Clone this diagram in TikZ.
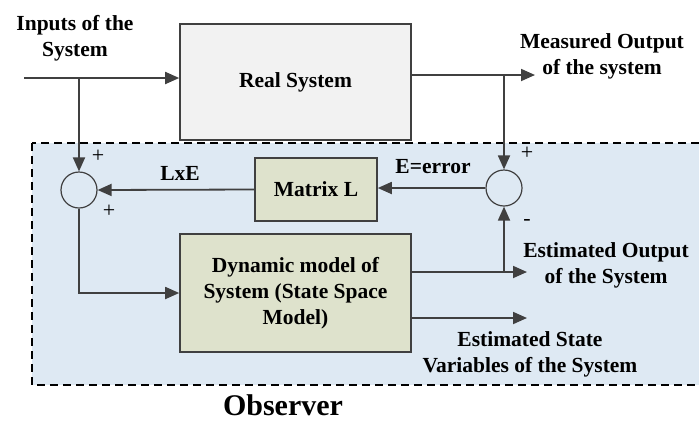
\documentclass[tikz,border=0pt]{standalone}
\usepackage{fontspec}
\setmainfont{Liberation Serif}[BoldFont={Liberation Serif Bold}]
\usetikzlibrary{arrows.meta}
\definecolor{linegray}{RGB}{64,64,64}
\definecolor{realfill}{RGB}{242,242,242}
\definecolor{modelfill}{RGB}{222,226,204}
\definecolor{obsfill}{RGB}{222,233,243}
\begin{document}
\begin{tikzpicture}[x=1pt,y=-1pt,
  font=\bfseries\fontsize{21.5}{26}\selectfont,
  block/.style={draw=linegray, line width=1.6pt, inner sep=0pt, align=center},
  sumnode/.style={circle, draw=linegray, line width=1.2pt, minimum size=36pt, inner sep=0pt},
  sig/.style={draw=linegray, line width=1.8pt, -{Triangle[length=14pt,width=12pt]}},
  sign/.style={font=\mdseries\fontsize{22}{22}\selectfont, inner sep=0pt}]
\useasboundingbox (0,0) rectangle (699,424);

% observer frame
\draw[fill=obsfill, line width=1.2pt, dash pattern=on 8pt off 5pt] (32,143) rectangle (702,385);
\node[anchor=base, inner sep=0pt] (obs) at (283,415) {\fontsize{30}{30}\selectfont Observer};

% blocks
\node[block, fill=realfill, minimum width=231pt, minimum height=116pt] (real) at (295.5,82) {Real System};
\node[block, fill=modelfill, minimum width=122pt, minimum height=63pt] (matL) at (316,189.5) {Matrix L};
\node[block, fill=modelfill, minimum width=231pt, minimum height=118pt] (dyn) at (295.5,293) {Dynamic model of\\System (State Space\\Model)};

\node[sumnode] (sumL) at (79,190) {};
\node[sumnode] (sumR) at (504,188) {};

% free ends
\coordinate (in) at (24,78);
\coordinate (inbr) at (79,78);
\coordinate (meas) at (535,75);
\coordinate (measbr) at (504,75);
\coordinate (estout) at (527,272);
\coordinate (eststate) at (527,318);

% signals
\draw[sig] (in) -- (in -| real.west);
\draw[sig] (inbr) -- (sumL.north);
\draw[sig] (real.east |- meas) -- (meas);
\draw[sig] (measbr) -- (sumR.north);
\draw[sig] (sumR.west) -- (sumR.west -| matL.east);
\draw[sig] (matL.west) -- (sumL.east);
\draw[sig] (sumL.south) |- (dyn.west);
\draw[sig] (dyn.east |- estout) -- (estout);
\draw[sig] (sumR.south |- estout) -- (sumR.south);
\draw[sig] (dyn.east |- eststate) -- (eststate);

% labels
\node[align=center] (inlbl) at (75,38) {Inputs of the\\System};
\node[align=center] (measlbl) at (602,56) {Measured Output\\of the system};
\node[align=center] (estoutlbl) at (606,265) {Estimated Output\\of the System};
\node[align=center] (eststatelbl) at (530,354.5) {Estimated State\\Variables of the System};
\node (lxe) at (180,173) {LxE};
\node (err) at (433,167) {E=error};

\node[sign] (pl1) at (98,156) {+};
\node[sign] (pl2) at (109,211) {+};
\node[sign] (pl3) at (527,153) {+};
\node[sign] (mi1) at (527,222) {-};
\end{tikzpicture}
\end{document}
